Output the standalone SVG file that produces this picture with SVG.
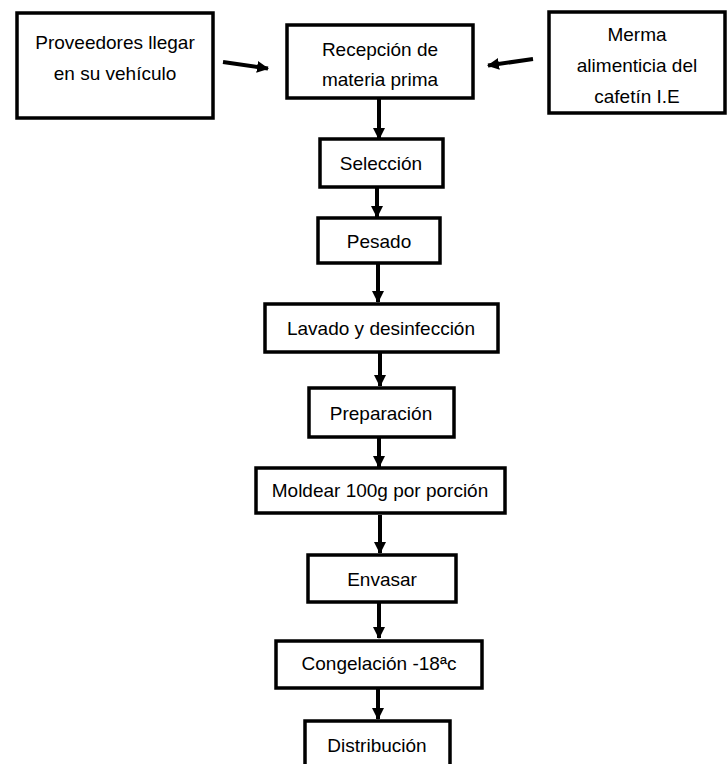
<svg xmlns="http://www.w3.org/2000/svg" width="727" height="764" viewBox="0 0 727 764">
<style>
.box{fill:#fff;stroke:#000;stroke-width:3.5}
.t{font-family:"Liberation Sans",Arial,sans-serif;font-size:19px;fill:#000;text-anchor:middle}
.c{stroke:#000;stroke-width:4;fill:none}
</style>
<defs>
<marker id="ah" markerUnits="userSpaceOnUse" markerWidth="14" markerHeight="14" refX="11" refY="7" orient="auto">
<path d="M0,1 L12,7 L0,13 Z" fill="#000"/>
</marker>
</defs>
<rect width="727" height="764" fill="#fff"/>
<g id="connectors">
<line class="c" x1="223" y1="62" x2="268" y2="68.5" marker-end="url(#ah)"/>
<line class="c" x1="533" y1="59" x2="488" y2="65.5" marker-end="url(#ah)"/>
<line class="c" x1="379" y1="99" x2="379" y2="139" marker-end="url(#ah)"/>
<line class="c" x1="377" y1="187" x2="377" y2="217" marker-end="url(#ah)"/>
<line class="c" x1="378" y1="264" x2="378" y2="302" marker-end="url(#ah)"/>
<line class="c" x1="380" y1="352" x2="380" y2="386" marker-end="url(#ah)"/>
<line class="c" x1="379" y1="437" x2="379" y2="467" marker-end="url(#ah)"/>
<line class="c" x1="380" y1="515" x2="380" y2="553" marker-end="url(#ah)"/>
<line class="c" x1="379" y1="602" x2="379" y2="638" marker-end="url(#ah)"/>
<line class="c" x1="378" y1="688" x2="378" y2="719" marker-end="url(#ah)"/>
</g>
<g id="n-proveedores">
<rect class="box" x="17" y="13" width="196" height="105"/>
<text class="t" x="115" y="49">Proveedores llegar</text>
<text class="t" x="115" y="80">en su vehículo</text>
</g>
<g id="n-recepcion">
<rect class="box" x="287" y="25" width="186" height="73"/>
<text class="t" x="380" y="56">Recepción de</text>
<text class="t" x="380" y="86">materia prima</text>
</g>
<g id="n-merma">
<rect class="box" x="549" y="12" width="176" height="101"/>
<text class="t" x="637" y="41">Merma</text>
<text class="t" x="637" y="72">alimenticia del</text>
<text class="t" x="637" y="103">cafetín I.E</text>
</g>
<g id="n-seleccion">
<rect class="box" x="320" y="139" width="123" height="48"/>
<text class="t" x="381" y="170">Selección</text>
</g>
<g id="n-pesado">
<rect class="box" x="318" y="218" width="122" height="45"/>
<text class="t" x="379" y="248">Pesado</text>
</g>
<g id="n-lavado">
<rect class="box" x="265" y="304" width="233" height="48"/>
<text class="t" x="381" y="335">Lavado y desinfección</text>
</g>
<g id="n-preparacion">
<rect class="box" x="309" y="388" width="145" height="49"/>
<text class="t" x="381" y="420">Preparación</text>
</g>
<g id="n-moldear">
<rect class="box" x="256" y="468" width="249" height="45"/>
<text class="t" x="380" y="497">Moldear 100g por porción</text>
</g>
<g id="n-envasar">
<rect class="box" x="308" y="555" width="148" height="47"/>
<text class="t" x="382" y="586">Envasar</text>
</g>
<g id="n-congelacion">
<rect class="box" x="276" y="641" width="206" height="47"/>
<text class="t" x="379" y="670">Congelación -18ªc</text>
</g>
<g id="n-distribucion">
<rect class="box" x="305" y="721" width="145" height="60"/>
<text class="t" x="377" y="752">Distribución</text>
</g>
</svg>
